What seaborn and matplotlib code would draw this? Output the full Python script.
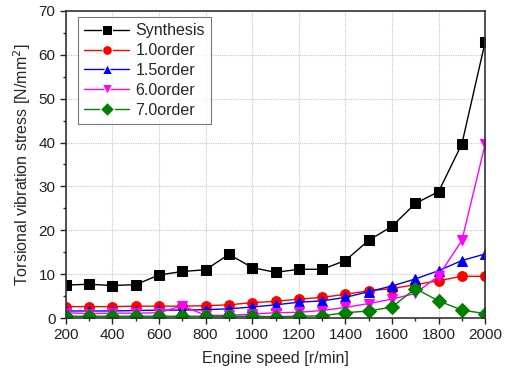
import numpy as np
import pandas as pd
import matplotlib
matplotlib.use("Agg")
import matplotlib.pyplot as plt
import seaborn as sns
from matplotlib.ticker import MultipleLocator, AutoMinorLocator

speeds = [200, 300, 400, 500, 600, 700, 800, 900, 1000, 1100,
          1200, 1300, 1400, 1500, 1600, 1700, 1800, 1900, 2000]
synthesis = [7.5, 7.7, 7.4, 7.6, 9.8, 10.6, 11.0, 14.5, 11.5, 10.4,
             11.1, 11.1, 13.1, 17.7, 20.9, 26.1, 28.8, 39.7, 63.0]
order_1_0 = [2.6, 2.6, 2.6, 2.7, 2.7, 2.7, 2.8, 3.0, 3.5, 3.8,
             4.3, 4.7, 5.4, 6.2, 6.7, 7.6, 8.5, 9.5, 9.5]
order_1_5 = [1.6, 1.6, 1.6, 1.7, 1.8, 1.8, 1.9, 2.1, 2.5, 3.0,
             3.6, 3.9, 4.7, 6.0, 7.3, 8.9, 10.8, 13.1, 14.6]
order_6_0 = [1.2, 1.0, 1.1, 1.1, 1.2, 2.8, 0.6, 0.6, 0.9, 1.2,
             1.3, 1.7, 2.4, 3.3, 4.3, 5.6, 9.6, 17.7, 39.7]
order_7_0 = [0.4, 0.4, 0.4, 0.4, 0.4, 0.4, 0.4, 0.4, 0.4, 0.3,
             0.4, 0.5, 1.2, 1.6, 2.5, 6.7, 3.9, 1.8, 1.0]

series_names = ["Synthesis", "1.0order", "1.5order", "6.0order", "7.0order"]
series_values = [synthesis, order_1_0, order_1_5, order_6_0, order_7_0]
colors = ["black", "#ff0000", "#0000ff", "#ff00ff", "#008000"]
markers = ["s", "o", "^", "v", "D"]

df = pd.concat([pd.DataFrame({"speed": speeds, "stress": v, "series": n})
                for n, v in zip(series_names, series_values)], ignore_index=True)

sns.set_theme(style="white")
plt.rcParams['font.family'] = ['Liberation Sans', 'DejaVu Sans']

fig = plt.figure(figsize=(5.14, 3.75), dpi=100)
ax = fig.add_axes([0.128, 0.152, 0.816, 0.819])

sns.lineplot(data=df, x="speed", y="stress", hue="series", style="series",
             hue_order=series_names, style_order=series_names,
             palette=dict(zip(series_names, colors)),
             markers=dict(zip(series_names, markers)),
             dashes=False, linewidth=1.0, markersize=7,
             ax=ax)
for line, c in zip(ax.get_lines(), colors):
    line.set_markeredgecolor(c)

ax.set_xlim(200, 2000)
ax.set_ylim(0, 70)
ax.xaxis.set_major_locator(MultipleLocator(200))
ax.yaxis.set_major_locator(MultipleLocator(10))
ax.xaxis.set_minor_locator(AutoMinorLocator(2))
ax.yaxis.set_minor_locator(AutoMinorLocator(2))
ax.grid(True, which="major", color="#c8c8c8", linestyle=(0, (1, 1)), linewidth=0.8)
for s in ax.spines.values():
    s.set_color("#333333")
    s.set_linewidth(1.2)
ax.tick_params(axis="both", which="major", direction="out", length=4, width=1,
               labelsize=11, colors="#222222", left=True, bottom=True)
ax.tick_params(axis="both", which="minor", direction="out", length=2.5, width=1,
               left=True, bottom=True)
ax.set_xlabel("Engine speed [r/min]", fontsize=11.5, labelpad=6)
ax.set_ylabel("Torsional vibration stress [N/mm$^2$]", fontsize=11.5, labelpad=4)

leg = ax.legend(loc="upper left", bbox_to_anchor=(0.029, 0.98), borderaxespad=0,
                fontsize=11.5, frameon=True, fancybox=False, edgecolor="#555555",
                handlelength=2.8, labelspacing=0.3, borderpad=0.4,
                handletextpad=0.4)
leg.get_frame().set_linewidth(0.8)

fig.savefig("out.png", dpi=100)
